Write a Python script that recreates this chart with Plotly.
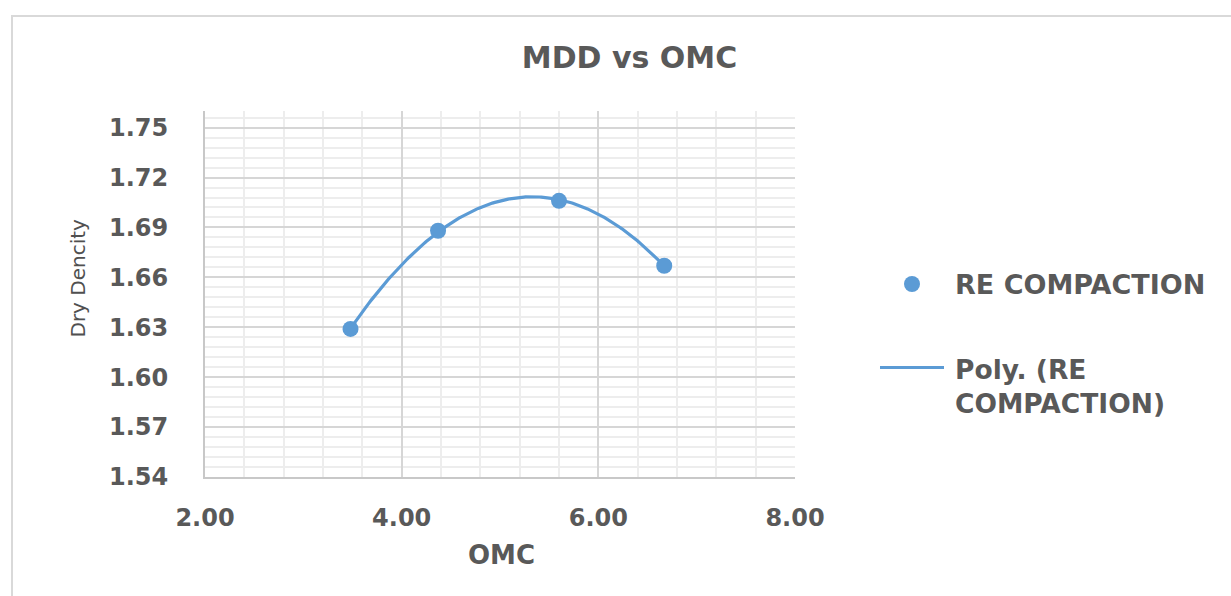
import numpy as np
import plotly.graph_objects as go

# ---- data ----
omc = [3.48, 4.37, 5.60, 6.67]
mdd = [1.629, 1.688, 1.706, 1.667]
series_name = "RE COMPACTION"
trend_name = "Poly. (RE COMPACTION)"
x_ticks = [2.0, 4.0, 6.0, 8.0]
y_ticks = [1.54, 1.57, 1.60, 1.63, 1.66, 1.69, 1.72, 1.75]

# order-2 polynomial trendline (as Excel's "Poly." trendline)
coef = np.polyfit(omc, mdd, 2)
xfit = np.linspace(min(omc), max(omc), 200)
yfit = np.polyval(coef, xfit)

BLUE = "#5b9bd5"
GREY = "#595959"
FONT = "DejaVu Sans"

W, H = 1231, 596
L, R, T, B = 205, 436, 111, 119
PW, PH = W - L - R, H - T - B


def px(x):
    return (x - L) / PW


def py(y):
    return (H - B - y) / PH


fig = go.Figure()
fig.add_trace(go.Scatter(x=xfit, y=yfit, mode="lines", name=trend_name,
                         line=dict(color=BLUE, width=3.2), showlegend=False,
                         hoverinfo="skip"))
fig.add_trace(go.Scatter(x=omc, y=mdd, mode="markers", name=series_name,
                         marker=dict(color=BLUE, size=16), showlegend=False))

shapes = [
    # outer chart border
    dict(type="rect", xref="paper", yref="paper", x0=px(12), x1=px(1400),
         y0=py(800), y1=py(16), line=dict(color="#d9d9d9", width=2),
         fillcolor="rgba(0,0,0,0)", layer="below"),
    # legend line symbol
    dict(type="line", xref="paper", yref="paper", x0=px(880), x1=px(944),
         y0=py(367.5), y1=py(367.5), line=dict(color=BLUE, width=3)),
    # legend marker symbol
    dict(type="circle", xref="paper", yref="paper", x0=px(904), x1=px(920),
         y0=py(292), y1=py(276), line=dict(color=BLUE, width=0),
         fillcolor=BLUE),
]

annotations = [
    dict(text=series_name, xref="paper", yref="paper", x=px(953), y=py(284),
         xanchor="left", yanchor="middle", showarrow=False,
         font=dict(family=FONT, size=27, color=GREY, weight="bold")),
    dict(text="Poly. (RE<br>COMPACTION)", xref="paper", yref="paper",
         x=px(953), y=py(386.5), xanchor="left", yanchor="middle", align="left",
         showarrow=False,
         font=dict(family=FONT, size=26.5, color=GREY, weight="bold")),
    dict(text="OMC", xref="paper", yref="paper", x=px(501.7), y=py(555),
         xanchor="center", yanchor="middle", showarrow=False,
         font=dict(family=FONT, size=26, color=GREY, weight="bold")),
    dict(text="Dry Dencity", xref="paper", yref="paper", x=px(77), y=py(278.5),
         xanchor="center", yanchor="middle", textangle=-90, showarrow=False,
         font=dict(family=FONT, size=20, color="#505050")),
]

fig.update_layout(
    width=W, height=H,
    margin=dict(l=L, r=R, t=T, b=B, pad=0),
    paper_bgcolor="white", plot_bgcolor="white",
    title=dict(text="MDD vs OMC", xref="container", yref="container",
               x=629.5 / W, y=1 - 57.5 / H, xanchor="center", yanchor="middle",
               font=dict(family=FONT, size=30, color=GREY, weight="bold")),
    shapes=shapes, annotations=annotations,
    showlegend=False,
)

fig.update_xaxes(
    range=[2, 8], tickmode="array", tickvals=x_ticks,
    ticktext=[f"{v:.2f}" for v in x_ticks],
    showgrid=True, gridcolor="#d6d6d6", gridwidth=1.8,
    minor=dict(dtick=0.4, tick0=2, showgrid=True, gridcolor="#ededed",
               gridwidth=1.8),
    showline=True, linecolor="#c8c8c8", linewidth=2,
    zeroline=False, ticks="", ticklabelstandoff=18,
    tickfont=dict(family=FONT, size=24, color=GREY, weight="bold"),
)
fig.update_yaxes(
    range=[1.54, 1.76], tickmode="array", tickvals=y_ticks,
    ticktext=[f"{v:.2f}" for v in y_ticks],
    showgrid=True, gridcolor="#d6d6d6", gridwidth=1.8,
    minor=dict(dtick=0.006, tick0=1.54, showgrid=True, gridcolor="#ededed",
               gridwidth=1.8),
    showline=True, linecolor="#c8c8c8", linewidth=2,
    zeroline=False, ticks="", ticklabelstandoff=30,
    tickfont=dict(family=FONT, size=24, color=GREY, weight="bold"),
)

fig.write_html("out.html")
